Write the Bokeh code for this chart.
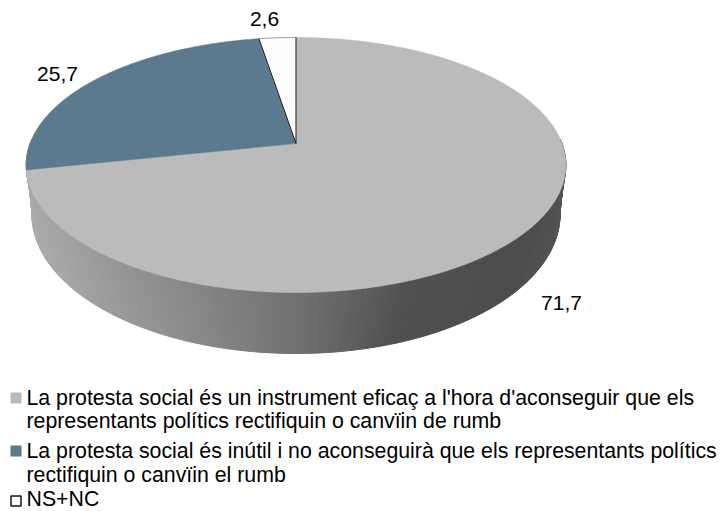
import numpy as np
from bokeh.plotting import figure
from bokeh.embed import file_html
from bokeh.resources import INLINE
from bokeh.core.properties import value

# --- data
values = [71.7, 25.7, 2.6]
slice_colors = ["#BBBBBB", "#5B7A8E", "#FDFDFD"]
legend_lines = [
    ["La protesta social és un instrument eficaç a l'hora d'aconseguir que els",
     "representants polítics rectifiquin o canvïin de rumb"],
    ["La protesta social és inútil i no aconseguirà que els representants polítics",
     "rectifiquin o canvïin el rumb"],
    ["NS+NC"],
]

# --- layout (page pixels)
W, H = 720, 511
FONT = value("Liberation Sans")
LABEL_SIZE = "21px"
LEGEND_SIZE = "21.3px"
label_xy = [(561, 302), (57, 73), (264, 18)]
legend_centers = [[397.5, 420.5], [450, 474.5], [498.5]]
legend_boxes = [(10, 392, 21, 403), (10, 445, 21, 456), (10.5, 495.5, 20.5, 505.5)]

K = 0.1686
CX = 295.5


def top(theta):
    X, Y = np.sin(theta), np.cos(theta)
    w = 1 + K * Y
    return CX + 266 * X / w, 143 - 123.9 * Y / w


def bottom(theta):
    return CX + 264 * np.sin(theta), 214 - 139 * np.cos(theta)


def side_color(x):
    xs = [26, 120, 220, 300, 400, 520, 565]
    gs = [172, 152, 130, 112, 80, 76, 84]
    g = int(round(np.interp(x, xs, gs)))
    return f"#{g:02x}{g:02x}{g:02x}"


p = figure(width=W, height=H, x_range=(0, W), y_range=(H, 0),
           output_backend="svg", toolbar_location=None,
           min_border=0, outline_line_color=None)
p.axis.visible = False
p.grid.visible = False

# side wall
th = np.linspace(0, 2 * np.pi, 361)
tx, ty = top(th)
bx, by = bottom(th)
qx, qy, qc = [], [], []
for i in range(88, 272):
    qx.append([tx[i], tx[i + 1], bx[i + 1], bx[i]])
    qy.append([ty[i], ty[i + 1], by[i + 1], by[i]])
    qc.append(side_color((tx[i] + bx[i] + tx[i + 1] + bx[i + 1]) / 4))
p.patches(qx, qy, fill_color=qc, line_color=qc, line_width=1.0)

# top face, slices from values
total = sum(values)
start = 0.0
edges = []
for v, c in zip(values, slice_colors):
    end = start + v / total * 2 * np.pi
    a = np.linspace(start, end, max(3, int(v * 6)))
    ax, ay = top(a)
    cx0, cy0 = CX, 143
    p.patch(np.r_[cx0, ax], np.r_[cy0, ay], fill_color=c, line_color=c, line_width=0.5)
    edges.append((ax, ay, cx0, cy0))
    start = end

# outline of the small white slice
ax, ay, cx0, cy0 = edges[2]
p.line(ax, ay, line_color="#999999", line_width=1)
p.line([ax[0], cx0, ax[-1]], [ay[0], cy0, ay[-1]], line_color="#111111", line_width=1)

# value labels
for v, (x, y) in zip(values, label_xy):
    p.text([x], [y], text=[f"{v:.1f}".replace(".", ",")], text_font=FONT,
           text_font_size=LABEL_SIZE, text_align="center", text_baseline="middle",
           text_color="#000000")

# legend
for lines, bases, box, c in zip(legend_lines, legend_centers, legend_boxes, slice_colors):
    dark = c == "#FDFDFD"
    p.quad(left=box[0], right=box[2], top=box[1], bottom=box[3], fill_color="#FFFFFF" if dark else c,
           line_color="#111111" if dark else None, line_width=1.5)
    for t, b in zip(lines, bases):
        p.text([26], [b], text=[t], text_font=FONT, text_font_size=LEGEND_SIZE,
               text_align="left", text_baseline="middle", text_color="#000000")

open("out.html", "w").write(file_html(p, INLINE))
